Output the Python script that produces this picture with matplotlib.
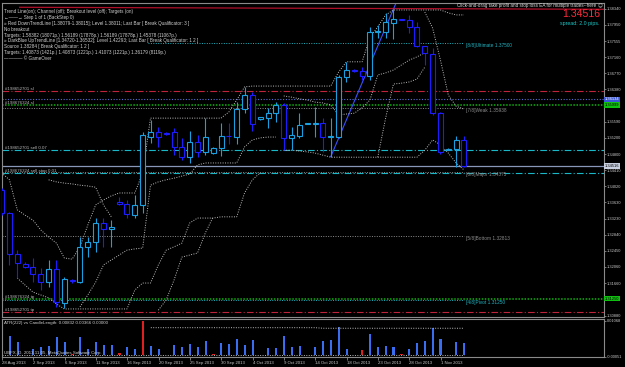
import numpy as np
import matplotlib.pyplot as plt
from matplotlib.transforms import blended_transform_factory

W, H = 625, 367
FONT = ['Liberation Sans Narrow', 'Liberation Sans', 'DejaVu Sans']
plt.rcParams['font.family'] = FONT

# daily EURUSD, bar 0 = 28 Aug 2013 (sunday bars included)
opens = [1.33932, 1.33366, 1.32369, 1.32125, 1.32067, 1.31882, 1.31702, 1.32011, 1.31177, 1.31735,
         1.31702, 1.32554, 1.32675, 1.33137, 1.32977, 1.33633, 1.33584, 1.33324, 1.33567, 1.35229,
         1.35336, 1.35319, 1.35336, 1.34971, 1.34728, 1.35107, 1.34864, 1.34825, 1.34946, 1.35246,
         1.35229, 1.35895, 1.36243, 1.35652, 1.35676, 1.35798, 1.35999, 1.35190, 1.35253, 1.35549,
         1.35537, 1.35569, 1.35214, 1.35214, 1.36688, 1.36851, 1.36826, 1.36705, 1.37768, 1.37782,
         1.38001, 1.38091, 1.38067, 1.37889, 1.37427, 1.37232, 1.35798, 1.34917, 1.34922, 1.35151]
highs = [1.33981, 1.33405, 1.32473, 1.32181, 1.32271, 1.32028, 1.32230, 1.32230, 1.31824, 1.31780,
         1.32782, 1.32782, 1.33244, 1.33244, 1.33203, 1.33769, 1.33689, 1.33811, 1.35350, 1.35635,
         1.35472, 1.35331, 1.35433, 1.35190, 1.35374, 1.35270, 1.35676, 1.34978, 1.35569, 1.35569,
         1.36080, 1.36445, 1.36323, 1.35719, 1.35919, 1.36080, 1.36041, 1.35472, 1.35812, 1.35570,
         1.35958, 1.35676, 1.35676, 1.36729, 1.37052, 1.36863, 1.36931, 1.37904, 1.37945, 1.38230,
         1.38327, 1.38103, 1.38189, 1.38025, 1.37446, 1.37378, 1.35829, 1.34953, 1.35245, 1.35235]
lows = [1.33324, 1.32108, 1.31785, 1.32036, 1.31702, 1.31500, 1.31566, 1.31094, 1.31055, 1.31671,
        1.31663, 1.32296, 1.32432, 1.32554, 1.32554, 1.33567, 1.33244, 1.33244, 1.33366, 1.35082,
        1.34985, 1.35282, 1.34783, 1.34662, 1.34596, 1.34742, 1.34783, 1.34796, 1.34759, 1.35047,
        1.35054, 1.35798, 1.35375, 1.35635, 1.35433, 1.35593, 1.34905, 1.34905, 1.35190, 1.35530,
        1.35229, 1.34864, 1.34742, 1.35190, 1.36566, 1.36802, 1.36607, 1.36607, 1.37622, 1.37622,
        1.37597, 1.38055, 1.37743, 1.37417, 1.36972, 1.35756, 1.34808, 1.34905, 1.34496, 1.34500]
closes = [1.33366, 1.32369, 1.32150, 1.32067, 1.31882, 1.31702, 1.32011, 1.31216, 1.31761, 1.31727,
          1.32554, 1.32675, 1.33137, 1.32977, 1.33040, 1.33584, 1.33341, 1.33567, 1.35270, 1.35336,
          1.35229, 1.35294, 1.34971, 1.34728, 1.35107, 1.34864, 1.35214, 1.34946, 1.35246, 1.35238,
          1.35895, 1.36243, 1.35537, 1.35700, 1.35798, 1.35999, 1.35190, 1.35270, 1.35513, 1.35561,
          1.35569, 1.35214, 1.35246, 1.36673, 1.36851, 1.36819, 1.36712, 1.37782, 1.37799, 1.38025,
          1.38084, 1.38067, 1.37889, 1.37434, 1.37257, 1.35798, 1.34864, 1.34934, 1.35151, 1.34516]

# dotted channel lines (nan = not drawn)
nan = np.nan
chan_up = [1.3435, 1.3418, 1.3345, 1.3332, 1.3320, 1.3296, 1.3279, 1.3264, 1.3228, 1.3225,
           1.3255, 1.3308, 1.3357, 1.3369, 1.3379, 1.3386, 1.3386, 1.3386, 1.3435, 1.3568,
           1.3568, 1.3568, 1.3568, 1.3568, 1.3568, 1.3568, 1.3568, 1.3568, 1.3568, 1.3583,
           1.3612, 1.3644, 1.3646, 1.3646, 1.3646, 1.3646, 1.3646, 1.3646, 1.3646, 1.3646,
           1.3646, 1.3646, 1.3646, 1.3680, 1.3705, 1.3705, 1.3705, 1.3765, 1.3790, 1.3819,
           1.3831, 1.3831, 1.3831, 1.3831, 1.3831, 1.3831, 1.3831, 1.3824, 1.3819, 1.3819]
chan_lo = [nan] * 10 + [
    1.3109, 1.3138, 1.3169, 1.3211, 1.3223, 1.3235, 1.3247, 1.3250, 1.3252, 1.3405,
    1.3413, 1.3418, 1.3422, 1.3427, 1.3432, 1.3454, 1.3459, 1.3459, 1.3459, 1.3459,
    1.3459, 1.3498, 1.3515, 1.3520, 1.3522, 1.3522] + [nan] * 24
low_w = [nan, nan, 1.3179, 1.3162, 1.3145, 1.3138, 1.3131, 1.3116, 1.3104, 1.3104,
         1.3104, 1.3104, 1.3104, 1.3104, 1.3104, 1.3104, 1.3104, 1.3150, 1.3167, 1.3167,
         1.3211, 1.3247, 1.3255, 1.3264, 1.3313, 1.3325, 1.3325, 1.3325, 1.3328, 1.3328,
         1.3328, 1.3386, 1.3418, 1.3435] + [nan] * 26
low_x = [nan] * 20 + [1.3101, 1.3126, 1.3174, 1.3230, 1.3235, 1.3240, 1.3289, 1.3328] + [nan] * 32
up_w = [nan] * 6 + [1.3418, 1.3413, 1.3410, 1.3408, 1.3405, 1.3403, 1.3400, 1.3357, 1.3328] + [nan] * 45
mid_1 = [nan] * 36 + [1.3622, 1.3619, 1.3615, 1.3612, 1.3607, 1.3605, 1.3600, 1.3576, 1.3578, 1.3580,
                      1.3593, 1.3612, 1.3673, 1.3678, 1.3685, 1.3697, 1.3709, 1.3717, 1.3727] + [nan] * 5
low_c = [nan] * 36 + [1.3490, 1.3490, 1.3488, 1.3486, 1.3483, 1.3478, 1.3473, 1.3473, 1.3473, 1.3473,
                      1.3473, 1.3473, 1.3473, 1.3473, 1.3473, 1.3473, 1.3473, 1.3473, 1.3490, 1.3515,
                      1.3503, 1.3483, 1.3459, 1.3442]
steep = [nan] * 48 + [1.3473, 1.3568, 1.3651, 1.3653, 1.3656, 1.3663, 1.3692] + [nan] * 5
up_fall = [nan] * 54 + [1.3826, 1.3787, 1.3709, 1.3624, 1.3597, 1.3590]

# ATR(222) vs CandleLength window
candle_len = [0.00479, 0.00603, 0.00395, 0.00012, 0.00199, 0.00261, 0.00292, 0.00572, 0.00417, 0.00044,
              0.00572, 0.00199, 0.00395, 0.00323, 0.00323, 0.00075, 0.00261, 0.00199, 0.01068, 0.00292,
              0.00199, 0.00010, 0.00323, 0.00261, 0.00355, 0.00261, 0.00448, 0.00022, 0.00386, 0.00345,
              0.00510, 0.00323, 0.00470, 0.00012, 0.00221, 0.00221, 0.00582, 0.00261, 0.00292, 0.00005,
              0.00239, 0.00448, 0.00470, 0.00861, 0.00190, 0.00010, 0.00159, 0.00656, 0.00239, 0.00292,
              0.00261, 0.00022, 0.00190, 0.00376, 0.00448, 0.00843, 0.00510, 0.00010, 0.00407, 0.00366]
red_bars = [3, 9, 15, 18, 21, 27, 33, 39, 45, 46, 51, 57]
atr222 = [nan] * 19 + [0.00852] * 22 + [0.00834] * 19

date_bars = [0, 4, 8, 12, 16, 20, 24, 28, 32, 36, 40, 44, 48, 52, 56]
date_labels = ['28 Aug 2013', '2 Sep 2013', '6 Sep 2013', '11 Sep 2013', '16 Sep 2013', '20 Sep 2013',
               '25 Sep 2013', '30 Sep 2013', '4 Oct 2013', '9 Oct 2013', '14 Oct 2013', '18 Oct 2013',
               '23 Oct 2013', '28 Oct 2013', '1 Nov 2013']

price_ticks = [1.38340, 1.37950, 1.37555, 1.37160, 1.36770, 1.36380, 1.35590, 1.35200, 1.34800,
               1.34410, 1.34020, 1.33630, 1.33230, 1.32840, 1.32450, 1.32060, 1.31660, 1.30880]

# order lines
sl_1, sl_2, sl_2b = 1.36340, 1.36134, 1.35999
sell_1, sell_stop = 1.34905, 1.34338
tp_2, tp_1 = 1.31290, 1.30958

# murrey math levels
mm_levels = [1.37500, 1.35938, 1.34375, 1.32813, 1.31250]
mm_names = ['[8/8]Ultimate', '[7/8]Weak', '[6/8]Major', '[5/8]Bottom', '[4/8]Pivot']
mm_colors = ['#1fb5c3', '#8c8c8c', '#8c8c8c', '#8c8c8c', '#1fb5c3']

info_lines = ['Trend Line(on); Channel (off); Breakout level (off); Targets (on)',
              '\u2190\u2014\u2014\u2192 Step 1 of 1 (BackStep 0)',
              '\u00bb Red DownTrendLine [1.38079-1.38015]; Level 1.38011; Last Bar [ Break Qualificator: 3 ]',
              'No breakout',
              'Targets: 1.58382 (18071p.) 1.56189 (17878p.) 1.56189 (17878p.) 1.45378 (11067p.)',
              '\u00bb DarkBlue UpTrendLine [1.34720-1.36532]; Level 1.42293; Last Bar [ Break Qualificator: 1 2 ]',
              'Source 1.38284 [ Break Qualificator: 1 2 ]',
              'Targets: 1.40873 (1421p.) 1.40873 (1221p.) 1.41073 (1221p.) 1.36179 (8119p.)',
              '\u2014\u2014\u2014\u2014 \u00a9 GameOver']

X0, DX = 1.6, 7.837  # pixel of bar 0 and bar spacing


def px_axes(x0, y0, x1, y1):
    return fig.add_axes([x0 / W, 1 - y1 / H, (x1 - x0) / W, (y1 - y0) / H])


fig = plt.figure(figsize=(W / 100, H / 100), dpi=100, facecolor='black')

ax = px_axes(2, 3, 604, 317)
ax.set_facecolor('black')
ax.set_xlim((2 - X0) / DX, (604 - X0) / DX)
ax.set_ylim(1.30844, 1.38480)
for s in ax.spines.values():
    s.set_color('#8a8a8a')
    s.set_linewidth(0.8)

idx = np.arange(len(closes))
grey = '#bdbdbd'
trans = blended_transform_factory(ax.transAxes, ax.transData)
dashdot = (0, (6, 2, 1, 2))
dots = (0, (1, 1.5))

# order lines
ax.axhline(sl_1, color='#c0243c', ls=dashdot, lw=0.8)
ax.axhline(sl_2, color='#5a6ed0', ls=dots, lw=0.8)
ax.axhline(sl_2b, color='#10b010', ls=(0, (1, 1)), lw=1.1)
ax.axhline(sell_1, color='#19b8c8', ls=dashdot, lw=0.8)
ax.axhline(closes[-1], color='#8896b8', lw=0.9)
ax.axhline(sell_stop, color='#19b8c8', ls=dashdot, lw=0.8)
ax.axhline(tp_2, color='#10b010', ls=(0, (1, 1)), lw=1.1)
ax.axhline(tp_1, color='#c0243c', ls=dashdot, lw=0.8)

for lbl, p in [('#198652701 sl', sl_1), ('#198676324 sl', sl_2b), ('#198652701 sell 0.07', sell_1),
               ('#198676324 sell stop 0.01', sell_stop), ('#198676324 tp', tp_2), ('#198652701 tp', tp_1)]:
    ax.text(0.005, p, lbl, transform=trans, color='#b8b8b8', fontsize=3.2, va='bottom', ha='left')

# murrey lines
for k, (lev, name, col) in enumerate(zip(mm_levels, mm_names, mm_colors)):
    start = 18.7 if k == 0 else 0
    ax.hlines(lev, start, idx[-1], color=col, ls=dots, lw=0.7)
    ax.text(idx[-1] + 0.3, lev, f'{name} {lev:.5f}', color=col, fontsize=3.4, va='top', ha='left')

# trend lines
ax.plot([2.3, 76.9], [1.38376, 1.38327], color='#b0102a', lw=0.9)
ax.plot([42, 51], [lows[42], lows[42] + 9 * 0.004488], color='#3a50ff', lw=0.8)

# channel lines
for line in [chan_up, chan_lo, low_w, low_x, up_w, mid_1, low_c, steep, up_fall]:
    ax.plot(idx, line, color=grey, ls=dots, lw=0.7)

# candles
bull_c, bear_c = '#1a9fe0', '#1c1cff'
for i in idx:
    o, h, l, c = opens[i], highs[i], lows[i], closes[i]
    col = bull_c if c >= o else bear_c
    ax.vlines(i, l, h, color=col, lw=0.8, zorder=3)
    bot, top = min(o, c), max(o, c)
    ax.add_patch(plt.Rectangle((i - 0.32, bot), 0.64, max(top - bot, 0.00002),
                               facecolor='black', edgecolor=col, lw=0.8, zorder=4))

# right price scale
ax.yaxis.tick_right()
ax.set_yticks(price_ticks)
ax.set_yticklabels([f'{t:.5f}' for t in price_ticks])
ax.tick_params(axis='y', colors='#8a8a8a', labelcolor='#c8c8c8', labelsize=2.9, length=1.5, width=0.6, pad=0.8)
ax.set_xticks([])

for p, txt, fc, tc in [(sl_2, '1.36134', '#3a56d8', 'white'), (sl_2b, '1.35999', '#10c010', 'black'),
                       (closes[-1], f'{closes[-1]:.5f}', '#c8d0e0', 'black'), (tp_2, '1.31250', '#10c010', 'black')]:
    ax.text(1.0015, p, txt, transform=trans, color=tc, fontsize=2.9, va='center', ha='left',
            bbox=dict(boxstyle='square,pad=0.15', fc=fc, ec='none'), clip_on=False)

# info block
for k, line in enumerate(info_lines):
    fig.text(4 / W, 1 - (11.7 + 5.85 * k) / H, line, color='#d0d0d0', fontsize=3.3, va='center', ha='left')

fig.text(596 / W, 1 - 5 / H, 'Click-and-drag take profit and stop loss EA for multiple trades--here',
         color='#d8d8d8', fontsize=3.3, va='center', ha='right')
fig.text(600 / W, 1 - 5 / H, '\u263a', color='#d8d8d8', fontsize=3.4, va='center', ha='center',
         family='DejaVu Sans')
fig.text(600 / W, 1 - 14 / H, f'{closes[-1]:.5f}', color='#ff2a3a', fontsize=7.6, va='center', ha='right')
fig.text(600 / W, 1 - 24 / H, 'spread: 2.0 pips.', color='#19c8c8', fontsize=3.8, va='center', ha='right')

# indicator window
ind = px_axes(2, 319, 604, 357)
ind.set_facecolor('black')
ind.set_xlim(ax.get_xlim())
ind.set_ylim(-0.0006, 0.01122)
for s in ind.spines.values():
    s.set_color('#8a8a8a')
    s.set_linewidth(0.8)
cols = ['#e02020' if i in red_bars else '#3a6ef0' for i in idx]
ind.bar(idx, candle_len, width=0.28, color=cols)
ind.plot(idx, atr222, color=grey, ls=dots, lw=0.7)
ind.hlines(0, idx[0], idx[-1], color=grey, ls=dots, lw=0.7)
ind.yaxis.tick_right()
ind.set_yticks([0.01068, -0.00051])
ind.set_yticklabels(['0.01068', '-0.00051'])
ind.tick_params(axis='y', colors='#8a8a8a', labelcolor='#c8c8c8', labelsize=2.9, length=1.5, width=0.6, pad=0.8)
ind.set_xticks(date_bars)
ind.set_xticklabels(date_labels)
ind.tick_params(axis='x', colors='#8a8a8a', labelcolor='#c8c8c8', labelsize=3.1, length=2, width=0.6, pad=1.2)
for t in ind.get_xticklabels():
    t.set_ha('left')
ind.text(0.003, 0.96, f'ATR(222) vs CandleLength: 0.00832 {candle_len[-1]:.5f} 0.00000', transform=ind.transAxes,
         color='#d0d0d0', fontsize=3.2, va='top', ha='left')
ind.text(0.003, 0.04, 'UBFX, D, 2013.11.05, MetaQuotes Software Corp.', transform=ind.transAxes,
         color='#d0d0d0', fontsize=3.2, va='bottom', ha='left')

fig.savefig('out.png', dpi=100, facecolor='black')
